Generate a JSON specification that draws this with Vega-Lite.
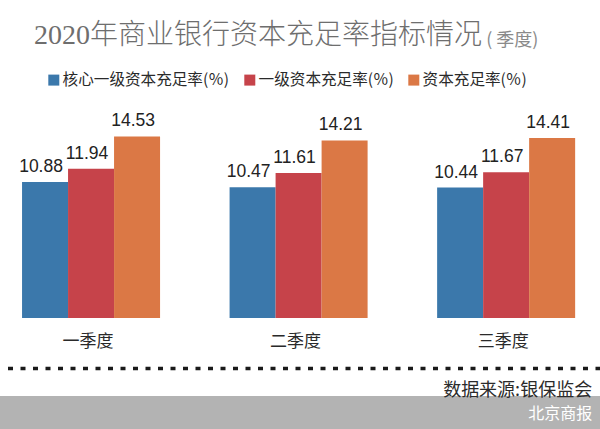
{
  "$schema": "https://vega.github.io/schema/vega-lite/v6.json",
  "width": 600,
  "height": 329,
  "autosize": {"type": "none"},
  "padding": {"top": 100, "left": 0, "right": 0, "bottom": 0},
  "background": "#ffffff",
  "title": {
    "text": "2020年商业银行资本充足率指标情况",
    "anchor": "start",
    "frame": "group",
    "dx": 34,
    "offset": -18,
    "font": "Liberation Serif, Noto Sans CJK SC",
    "fontSize": 28,
    "fontWeight": 300,
    "color": "#6e6e6e"
  },
  "datasets": {
    "bars": [
      {"quarter": "一季度", "series": "核心一级资本充足率(％)", "value": 10.88},
      {"quarter": "一季度", "series": "一级资本充足率(％)", "value": 11.94},
      {"quarter": "一季度", "series": "资本充足率(％)", "value": 14.53},
      {"quarter": "二季度", "series": "核心一级资本充足率(％)", "value": 10.47},
      {"quarter": "二季度", "series": "一级资本充足率(％)", "value": 11.61},
      {"quarter": "二季度", "series": "资本充足率(％)", "value": 14.21},
      {"quarter": "三季度", "series": "核心一级资本充足率(％)", "value": 10.44},
      {"quarter": "三季度", "series": "一级资本充足率(％)", "value": 11.67},
      {"quarter": "三季度", "series": "资本充足率(％)", "value": 14.41}
    ],
    "footer": [
      {"quarter": "三季度", "source": "数据来源:银保监会", "brand": "北京商报", "unit": "( 季度)"}
    ]
  },
  "data": {"name": "bars"},
  "layer": [
    {
      "mark": {"type": "bar"},
      "encoding": {
        "x": {
          "field": "quarter",
          "type": "nominal",
          "scale": {"domain": ["一季度", "二季度", "三季度"], "paddingInner": 0.335, "paddingOuter": 0.113, "align": 0.47},
          "axis": {
            "orient": "top",
            "offset": -268,
            "title": null,
            "ticks": false,
            "tickSize": 0,
            "labelAngle": 0,
            "labelPadding": 17.5,
            "labelOffset": -3,
            "labelFont": "Noto Sans CJK SC",
            "labelFontSize": 17,
            "labelColor": "#2a2a2a",
            "domainColor": "#1a1a1a",
            "domainWidth": 3.3,
            "domainDash": [5, 7.5],
            "domainDashOffset": 5,
            "grid": false
          }
        },
        "xOffset": {
          "field": "series",
          "type": "nominal",
          "scale": {"domain": ["核心一级资本充足率(％)", "一级资本充足率(％)", "资本充足率(％)"], "paddingInner": 0, "paddingOuter": 0}
        },
        "y": {
          "field": "value",
          "type": "quantitative",
          "axis": null,
          "scale": {"domain": [-8.88, 17.44], "nice": false, "zero": false}
        },
        "y2": {"datum": 0},
        "color": {
          "field": "series",
          "type": "nominal",
          "scale": {
            "domain": ["核心一级资本充足率(％)", "一级资本充足率(％)", "资本充足率(％)"],
            "range": ["#3b78ab", "#c6434a", "#db7845"]
          },
          "legend": {
            "orient": "none",
            "legendX": 46,
            "legendY": -28,
            "direction": "horizontal",
            "title": null,
            "symbolType": "square",
            "symbolSize": 121,
            "symbolStrokeWidth": 0,
            "symbolOpacity": 1,
            "labelFontSize": 15.6,
            "labelFont": "Noto Sans CJK SC",
            "labelColor": "#2a2a2a",
            "labelOffset": 1,
            "columnPadding": 12,
            "padding": 0,
            "labelLimit": 0
          }
        }
      }
    },
    {
      "mark": {"type": "text", "font": "Liberation Sans", "fontSize": 17.5, "color": "#222222", "baseline": "alphabetic", "dy": -10, "dx": -4},
      "encoding": {
        "x": {"field": "quarter", "type": "nominal"},
        "xOffset": {"field": "series", "type": "nominal"},
        "y": {"field": "value", "type": "quantitative"},
        "text": {"field": "value", "type": "quantitative", "format": ".2f"}
      }
    },
    {
      "data": {"name": "footer"},
      "mark": {"type": "text", "font": "Noto Sans CJK SC", "fontSize": 18, "color": "#8a8a8a", "align": "left", "baseline": "alphabetic", "dx": 49},
      "encoding": {
        "x": {"field": "quarter", "type": "nominal", "bandPosition": 0},
        "y": {"datum": 21.76, "type": "quantitative"},
        "text": {"field": "unit", "type": "nominal"}
      }
    },
    {
      "data": {"name": "footer"},
      "mark": {"type": "rect", "color": "#b3b3b3"},
      "encoding": {
        "x": {"value": 0},
        "x2": {"value": "width"},
        "y": {"datum": -6.24, "type": "quantitative"},
        "y2": {"datum": -8.88}
      }
    },
    {
      "data": {"name": "footer"},
      "mark": {"type": "text", "font": "Noto Sans CJK SC", "fontSize": 18, "color": "#2b2b2b", "align": "right", "baseline": "middle", "dx": 17},
      "encoding": {
        "x": {"field": "quarter", "type": "nominal", "bandPosition": 1},
        "y": {"datum": -5.86, "type": "quantitative"},
        "text": {"field": "source", "type": "nominal"}
      }
    },
    {
      "data": {"name": "footer"},
      "mark": {"type": "text", "font": "Noto Sans CJK SC", "fontSize": 16, "color": "#ffffff", "align": "right", "baseline": "middle", "dx": 17},
      "encoding": {
        "x": {"field": "quarter", "type": "nominal", "bandPosition": 1},
        "y": {"datum": -7.66, "type": "quantitative"},
        "text": {"field": "brand", "type": "nominal"}
      }
    }
  ],
  "config": {
    "view": {"stroke": null}
  }
}
